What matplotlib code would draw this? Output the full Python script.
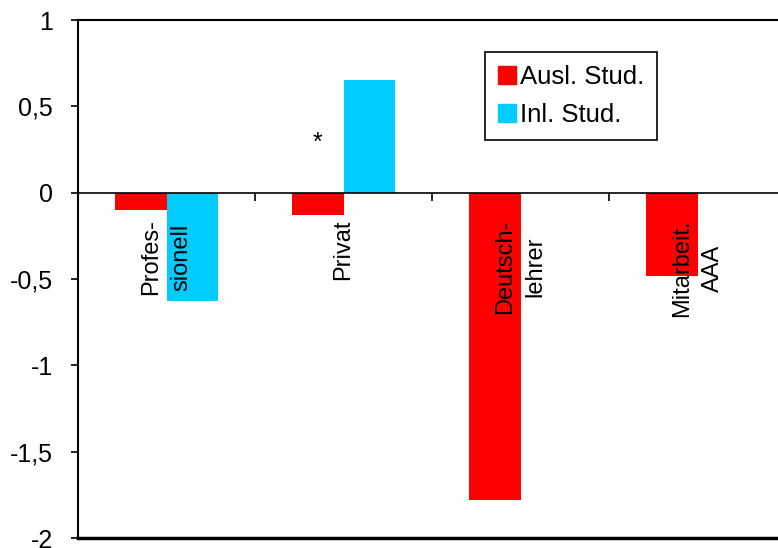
import numpy as np
import matplotlib.pyplot as plt
from matplotlib.patches import Patch
from matplotlib.ticker import FuncFormatter

# category labels and mean values for foreign / domestic students
categories = ["Profes-\nsionell", "Privat", "Deutsch-\nlehrer", "Mitarbeit.\nAAA"]
ausl = [-0.10, -0.13, -1.78, -0.48]
inl = [-0.63, 0.65, 0.0, 0.0]
series_names = ["Ausl. Stud.", "Inl. Stud."]
yticks = [-2, -1.5, -1, -0.5, 0, 0.5, 1]

RED = "#ff0000"
CYAN = "#00ccff"

plt.rcParams['font.family'] = ['Liberation Sans', 'DejaVu Sans']

fig = plt.figure(figsize=(7.78, 5.48), dpi=100)
ax = fig.add_axes([78 / 778, 10 / 548, 708 / 778, 518 / 548])

x = np.arange(len(categories))
w = 0.29
ax.bar(x - w / 2, ausl, w, color=RED, zorder=2)
ax.bar(x + w / 2, inl, w, color=CYAN, zorder=2)

ax.set_xlim(-0.5, len(categories) - 0.5)
ax.set_ylim(-2, 1)
ax.set_yticks(yticks)
ax.yaxis.set_major_formatter(FuncFormatter(lambda v, p: ("%g" % v).replace(".", ",")))
ax.tick_params(axis='y', labelsize=18, length=5, width=1.2, direction='out', pad=13)

# category axis crosses at zero, tick marks between categories
ax.spines['bottom'].set_position(('data', 0))
ax.spines['bottom'].set_linewidth(1.2)
ax.spines['left'].set_linewidth(1.5)
ax.spines['top'].set_linewidth(1.5)
ax.spines['right'].set_visible(False)
ax.set_xticks(x[:-1] + 0.5)
ax.set_xticklabels([])
ax.tick_params(axis='x', length=6, width=1.2, direction='out')
ax.plot([0, 1], [0, 0], transform=ax.transAxes, color='black', lw=2.5, clip_on=False)

for xi, lab in zip(x, categories):
    ax.text(xi, -0.155, lab, rotation=90, ha='center', va='top',
            multialignment='center', linespacing=1.5, fontsize=17, zorder=3)

# significance marker above the Privat bar
ax.text(x[1] - w / 2, 0.22, "*", ha='center', va='bottom', fontsize=18)

handles = [Patch(color=RED), Patch(color=CYAN)]
leg = ax.legend(handles, series_names, loc='upper left', bbox_to_anchor=(0.575, 0.938),
                borderaxespad=0, fontsize=18.5, handlelength=0.7, handleheight=0.7,
                handletextpad=0.15, labelspacing=0.55, borderpad=0.5,
                fancybox=False, framealpha=1)
leg.get_frame().set_edgecolor('black')
leg.get_frame().set_linewidth(1.2)

fig.savefig("out.png", dpi=100)
